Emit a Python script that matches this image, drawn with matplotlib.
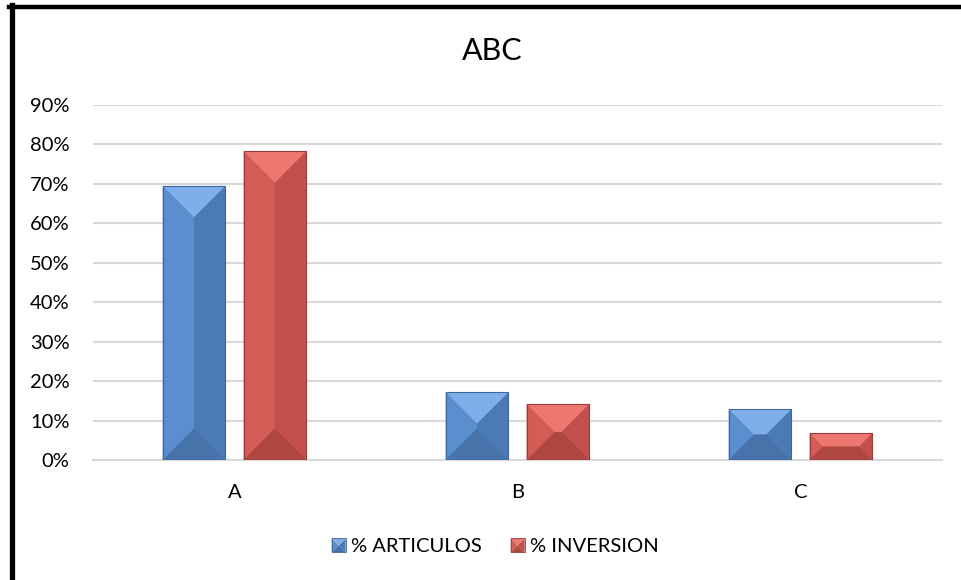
import matplotlib
matplotlib.use('Agg')
import matplotlib.pyplot as plt
from matplotlib.patches import Polygon, Patch
from matplotlib.lines import Line2D
from matplotlib.legend_handler import HandlerBase
import numpy as np

categorias = ['A', 'B', 'C']
articulos = [0.695, 0.172, 0.129]
inversion = [0.783, 0.142, 0.068]
series = ['% ARTICULOS', '% INVERSION']
yticks = [0, 0.1, 0.2, 0.3, 0.4, 0.5, 0.6, 0.7, 0.8, 0.9]

# colours for the bevelled faces: base, left, right, top, bottom, edge
azul = {'base': '#4F81BD', 'left': '#5A8ECE', 'right': '#4B7AB4',
        'top': '#80AEEA', 'bottom': '#4673AA', 'edge': '#3E6799'}
rojo = {'base': '#C0504D', 'left': '#D45C56', 'right': '#C24F4B',
        'top': '#EE7772', 'bottom': '#AE4642', 'edge': '#9A3D3A'}

plt.rcParams['font.family'] = ['Lato', 'DejaVu Sans']

fig = plt.figure(figsize=(9.62, 5.8), dpi=100)
ax = fig.add_axes([93 / 962, 1 - 460 / 580, 849 / 962, 355 / 580])
ax.set_xlim(-0.5, 2.5)
ax.set_ylim(0, 0.9)

x = np.arange(len(categorias))
ancho = 0.222
off = 0.143
b1 = ax.bar(x - off, articulos, ancho, color=azul['base'], zorder=3)
b2 = ax.bar(x + off, inversion, ancho, color=rojo['base'], zorder=3)


def caras(L, B, R, T):
    """corner points of the four bevel faces for a box in pixels"""
    d = min((R - L) / 2, (T - B) / 2)
    iL, iR, iB, iT = L + d, R - d, B + d, T - d
    return {
        'left': [(L, B), (L, T), (iL, iT), (iL, iB)],
        'right': [(R, B), (R, T), (iR, iT), (iR, iB)],
        'top': [(L, T), (R, T), (iR, iT), (iL, iT)],
        'bottom': [(L, B), (R, B), (iR, iB), (iL, iB)],
    }


def bisel(patch, col):
    t = ax.transData
    x0, y0 = patch.get_x(), patch.get_y()
    L, B = t.transform((x0, y0))
    R, T = t.transform((x0 + patch.get_width(), y0 + patch.get_height()))
    inv = t.inverted()
    for k, pts in caras(L, B, R, T).items():
        ax.add_patch(Polygon(inv.transform(pts), closed=True, facecolor=col[k],
                             edgecolor='none', zorder=4))
    ax.add_patch(Polygon(inv.transform([(L, B), (L, T), (R, T), (R, B)]), closed=True,
                         facecolor='none', edgecolor=col['edge'], lw=0.8, zorder=5))


for p in b1:
    bisel(p, azul)
for p in b2:
    bisel(p, rojo)


class HandlerBisel(HandlerBase):
    def __init__(self, col):
        super().__init__()
        self.col = col

    def create_artists(self, legend, orig_handle, xdescent, ydescent, width, height,
                       fontsize, trans):
        lado = min(width, height * 1.1)
        L, B = -xdescent, -ydescent + (height - lado) / 2
        arts = []
        for k, pts in caras(L, B, L + lado, B + lado).items():
            arts.append(Polygon(pts, closed=True, facecolor=self.col[k], edgecolor='none',
                                transform=trans))
        arts.append(Polygon([(L, B), (L, B + lado), (L + lado, B + lado), (L + lado, B)],
                            closed=True, facecolor='none', edgecolor=self.col['edge'],
                            lw=0.6, transform=trans))
        return arts


ax.set_yticks(yticks)
ax.set_yticklabels([f'{int(round(v * 100))}%' for v in yticks], fontsize=14.5)
ax.set_xticks(x)
ax.set_xticklabels(categorias, fontsize=14.5)
ax.tick_params(length=0)
ax.tick_params(axis='y', pad=17)
ax.tick_params(axis='x', pad=17)
ax.grid(axis='y', color='#D9D9D9', lw=1.5, zorder=0)
for s in ['top', 'right', 'left']:
    ax.spines[s].set_visible(False)
ax.spines['bottom'].set_color('#D9D9D9')
ax.spines['bottom'].set_linewidth(1.5)

fig.text(492 / 962, 1 - 50.5 / 580, 'ABC', ha='center', va='center', fontsize=22)

h1 = Patch(facecolor=azul['base'])
h2 = Patch(facecolor=rojo['base'])
fig.legend([h1, h2], series, loc='center', bbox_to_anchor=(0.5146, 0.057), ncol=2,
           frameon=False, fontsize=14.5, handlelength=0.7, handleheight=0.7,
           handletextpad=0.25, columnspacing=1.45,
           handler_map={h1: HandlerBisel(azul), h2: HandlerBisel(rojo)})

# outer frame: thick black line on the left and top
fig.add_artist(Line2D([11.5 / 962, 11.5 / 962], [0, 1 - 5 / 580], color='black', lw=3.8))
fig.add_artist(Line2D([9 / 962, 1], [1 - 7 / 580, 1 - 7 / 580], color='black', lw=3.2))

fig.savefig('out.png', dpi=100)
